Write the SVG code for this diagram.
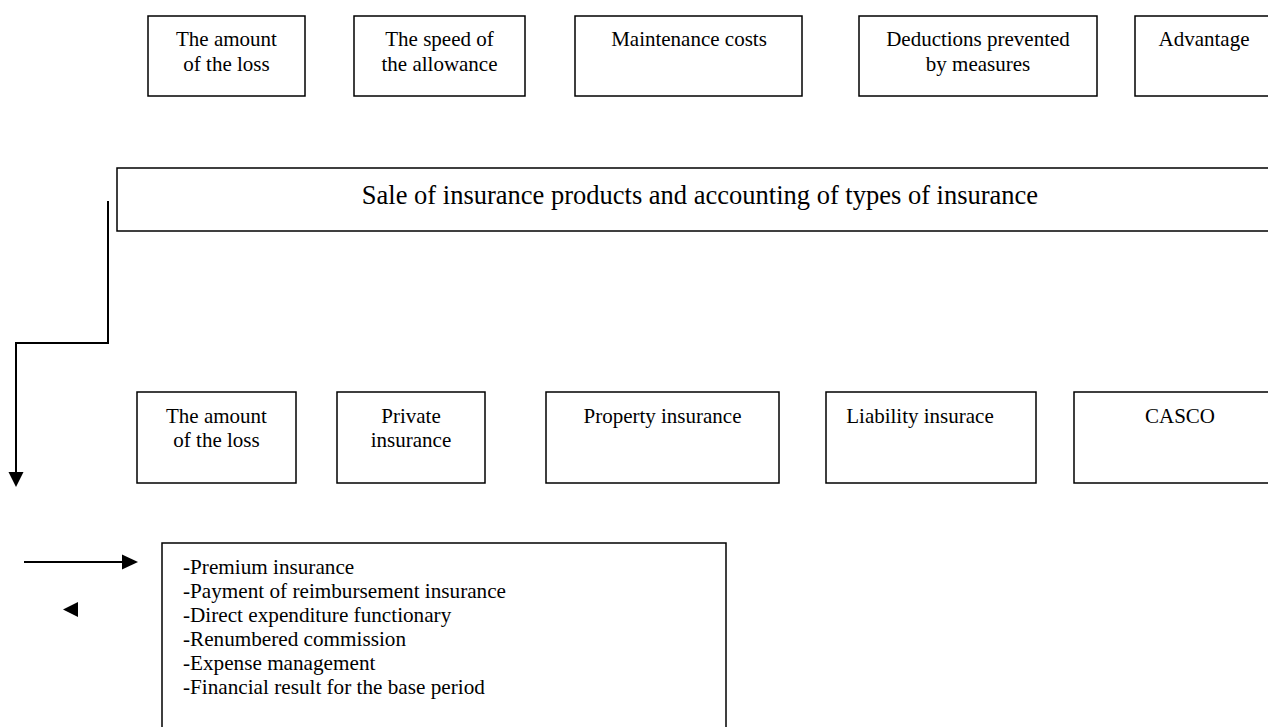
<svg xmlns="http://www.w3.org/2000/svg" width="1268" height="727" viewBox="0 0 1268 727">
<style>
.box{fill:#fff;stroke:#000;stroke-width:1.5}
.t{font-family:"Liberation Serif","Times New Roman",serif;font-size:21px;fill:#000;text-anchor:middle}
.l{font-family:"Liberation Serif","Times New Roman",serif;font-size:21.2px;fill:#000}
.title{font-family:"Liberation Serif","Times New Roman",serif;font-size:26.5px;fill:#000;text-anchor:middle}
.c{fill:none;stroke:#000;stroke-width:2}
</style>
<rect width="1268" height="727" fill="#fff"/>
<g id="top1"><rect class="box" x="148" y="16" width="157" height="80"/><text class="t" x="226.5" y="46">The amount</text><text class="t" x="226.5" y="71">of the loss</text></g>
<g id="top2"><rect class="box" x="354" y="16" width="171" height="80"/><text class="t" x="439.5" y="46">The speed of</text><text class="t" x="439.5" y="71">the allowance</text></g>
<g id="top3"><rect class="box" x="575" y="16" width="227" height="80"/><text class="t" x="689" y="46">Maintenance costs</text></g>
<g id="top4"><rect class="box" x="859" y="16" width="238" height="80"/><text class="t" x="978" y="46">Deductions prevented</text><text class="t" x="978" y="71">by measures</text></g>
<g id="top5"><rect class="box" x="1135" y="16" width="143" height="80"/><text class="t" x="1204" y="46">Advantage</text></g>
<g id="title"><rect class="box" x="117" y="168" width="1160" height="63"/><text class="title" x="700" y="204">Sale of insurance products and accounting of types of insurance</text></g>
<g id="bot1"><rect class="box" x="137" y="392" width="159" height="91"/><text class="t" x="216.5" y="423">The amount</text><text class="t" x="216.5" y="447">of the loss</text></g>
<g id="bot2"><rect class="box" x="337" y="392" width="148" height="91"/><text class="t" x="411" y="423">Private</text><text class="t" x="411" y="447">insurance</text></g>
<g id="bot3"><rect class="box" x="546" y="392" width="233" height="91"/><text class="t" x="662.5" y="423">Property insurance</text></g>
<g id="bot4"><rect class="box" x="826" y="392" width="210" height="91"/><text class="t" x="920" y="423">Liability insurace</text></g>
<g id="bot5"><rect class="box" x="1074" y="392" width="204" height="91"/><text class="t" x="1180" y="423">CASCO</text></g>
<g id="list"><rect class="box" x="162" y="543" width="564" height="200"/>
<text class="l" x="183" y="574">-Premium insurance</text>
<text class="l" x="183" y="598">-Payment of reimbursement insurance</text>
<text class="l" x="183" y="622">-Direct expenditure functionary</text>
<text class="l" x="183" y="646">-Renumbered commission</text>
<text class="l" x="183" y="670">-Expense management</text>
<text class="l" x="183" y="694">-Financial result for the base period</text>
</g>
<g id="connectors">
<polyline class="c" points="108,201 108,343 16,343 16,473"/>
<polygon points="8.5,472 23.5,472 16,487" fill="#000"/>
<line class="c" x1="24" y1="562" x2="124" y2="562"/>
<polygon points="122,554.5 138,562 122,569.5" fill="#000"/>
<polygon points="63,609.5 78,602 78,617" fill="#000"/>
</g>
</svg>
